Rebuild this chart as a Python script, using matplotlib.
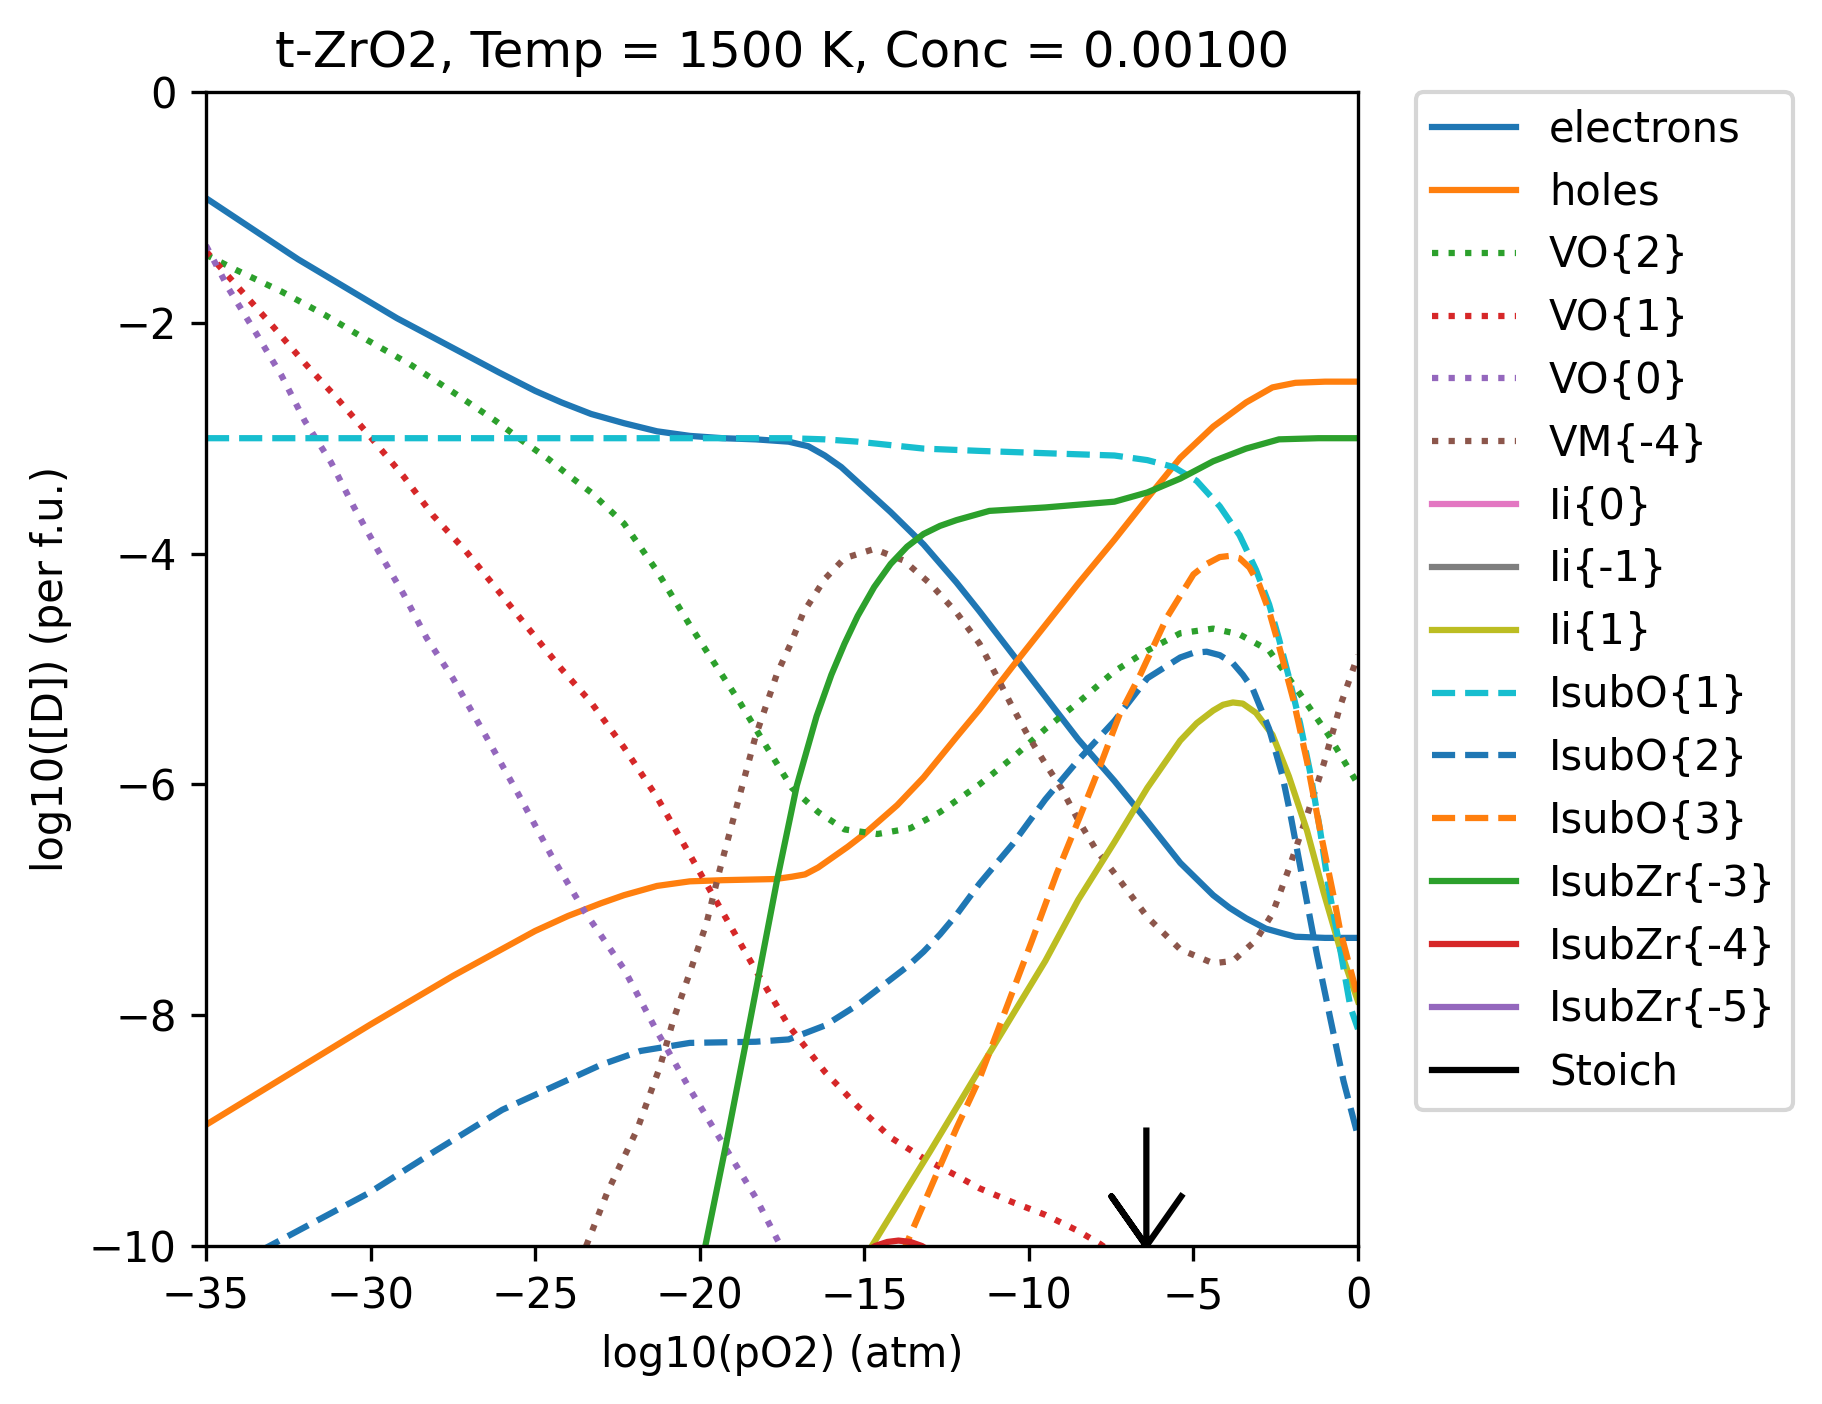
import numpy as np
import matplotlib
matplotlib.use('Agg')
import matplotlib.pyplot as plt

# %% values (log10 pO2, log10 [D])

electrons_x = [-35, -32.2, -29.2, -26.1, -25.0, -24.2, -23.3, -22.3, -21.3, -20.3, -19.3, -18.3,
               -17.3, -16.7, -16.2, -15.7, -15.2, -14.2, -13.2, -12.2, -11.5, -10.5, -9.5, -8.5,
               -7.4, -6.4, -5.4, -4.4, -3.9, -3.4, -2.8, -2.3, -1.9, -1.0, 0]
electrons_y = [-0.92, -1.45, -1.96, -2.43, -2.59, -2.69, -2.79, -2.87, -2.94, -2.98, -3.0, -3.01,
               -3.03, -3.07, -3.15, -3.25, -3.38, -3.64, -3.92, -4.25, -4.5, -4.87, -5.24, -5.61,
               -5.97, -6.32, -6.68, -6.96, -7.07, -7.16, -7.25, -7.29, -7.32, -7.33, -7.33]

holes_x = [-35, -30, -27.5, -25, -24, -23, -22.3, -21.3, -20.3, -19.3, -17.7, -17.2, -16.8, -16.4,
           -16.0, -15.5, -15.0, -14.0, -13.2, -12.2, -11.5, -10.5, -9.5, -8.5, -7.4, -6.4, -5.4,
           -4.4, -3.4, -2.6, -1.9, -1.0, 0]
holes_y = [-8.95, -8.08, -7.66, -7.27, -7.14, -7.03, -6.96, -6.88, -6.84, -6.83, -6.82, -6.80,
           -6.78, -6.72, -6.64, -6.54, -6.43, -6.18, -5.94, -5.59, -5.35, -4.98, -4.62, -4.26,
           -3.88, -3.52, -3.17, -2.90, -2.69, -2.56, -2.52, -2.51, -2.51]

vo2_x = [-35, -34.1, -32.7, -31.4, -30.1, -28.8, -27.5, -26.2, -25.4, -24.6, -23.9, -23.3, -22.3,
         -21.3, -20.3, -19.6, -18.8, -18.0, -17.2, -16.4, -15.6, -14.6, -13.6, -12.7, -11.9,
         -11.5, -10.5, -9.5, -8.5, -7.4, -6.4, -5.4, -4.4, -3.6, -2.7, -1.8, -0.9, 0]
vo2_y = [-1.41, -1.54, -1.73, -1.93, -2.15, -2.36, -2.60, -2.85, -3.02, -3.18, -3.34, -3.47, -3.74,
         -4.15, -4.62, -4.93, -5.28, -5.66, -6.03, -6.24, -6.39, -6.43, -6.38, -6.24, -6.08,
         -6.0, -5.77, -5.52, -5.29, -5.02, -4.84, -4.69, -4.65, -4.70, -4.84, -5.20, -5.57, -6.0]

vo1_x = [-35, -34.0, -33.0, -32.0, -31.0, -30.0, -29.0, -28.1, -27.1, -26.1, -25.2, -24.2, -23.3,
         -22.3, -21.3, -20.3, -19.3, -18.3, -17.3, -16.2, -15.2, -14.2, -13.2, -12.2, -11.5,
         -10.5, -9.5, -8.5, -7.85, -7.5]
vo1_y = [-1.38, -1.70, -2.02, -2.35, -2.66, -2.99, -3.33, -3.67, -3.98, -4.33, -4.65, -5.0, -5.29,
         -5.68, -6.11, -6.61, -7.11, -7.61, -8.09, -8.49, -8.79, -9.06, -9.24, -9.39, -9.50,
         -9.62, -9.73, -9.87, -9.98, -10.05]

vo0_x = [-35, -34.3, -33.5, -32.7, -32.0, -31.2, -30.5, -29.8, -29.0, -28.3, -27.5, -26.5, -25.5,
         -24.5, -23.5, -22.3, -21.3, -20.3, -19.3, -18.3, -17.65, -17.4]
vo0_y = [-1.33, -1.71, -2.08, -2.46, -2.85, -3.21, -3.60, -3.96, -4.35, -4.73, -5.08, -5.58, -6.09,
         -6.62, -7.10, -7.60, -8.14, -8.64, -9.11, -9.58, -9.94, -10.07]

vm4_x = [-23.45, -22.8, -21.9, -21.2, -20.8, -20.3, -19.8, -19.4, -18.8, -18.3, -17.65, -17.25,
         -16.85, -16.2, -15.6, -14.7, -13.8, -13.0, -12.2, -11.5, -11.0, -10.5, -10.0, -9.5,
         -9.0, -8.5, -7.95, -7.4, -6.4, -5.4, -4.4, -3.8, -3.1, -2.6, -2.1, -1.55, -1.05, -0.54, 0]
vm4_y = [-10.0, -9.53, -8.99, -8.44, -8.04, -7.63, -7.21, -6.75, -6.11, -5.58, -5.04, -4.79,
         -4.51, -4.22, -4.04, -3.96, -4.06, -4.26, -4.51, -4.78, -5.05, -5.33, -5.59, -5.82,
         -6.04, -6.31, -6.57, -6.77, -7.15, -7.43, -7.55, -7.53, -7.35, -7.12, -6.73, -6.27,
         -5.83, -5.32, -4.88]

# these three never come above -10 on this range
ii0_x, ii0_y = [], []
iim1_x, iim1_y = [], []
subzr5_x, subzr5_y = [], []

ii1_x = [-15.0, -14.77, -13.0, -11.5, -10.5, -9.5, -8.5, -7.4, -6.4, -5.4, -4.9, -4.4, -4.1, -3.8,
         -3.5, -3.1, -2.6, -2.1, -1.55, -1.05, -0.54, 0]
ii1_y = [-10.1, -10.0, -9.18, -8.47, -8.0, -7.53, -7.0, -6.5, -6.03, -5.62, -5.47, -5.36, -5.31,
         -5.29, -5.30, -5.38, -5.57, -5.93, -6.40, -6.93, -7.43, -7.88]

subo1_x = [-35, -17.3, -16.2, -15.2, -14.2, -13.2, -11.5, -9.5, -7.4, -6.4, -5.6, -4.9, -4.2, -3.6,
           -3.1, -2.7, -2.4, -2.1, -1.76, -1.45, -1.15, -0.89, -0.54, -0.23, 0]
subo1_y = [-3.0, -3.0, -3.01, -3.03, -3.06, -3.09, -3.11, -3.13, -3.15, -3.19, -3.25, -3.37, -3.59,
           -3.84, -4.14, -4.44, -4.74, -5.07, -5.47, -5.90, -6.40, -6.90, -7.43, -7.93, -8.12]

subo2_x = [-33.4, -30.05, -28, -26.0, -23.0, -21.8, -20.3, -18.3, -17.3, -16.2, -15.2, -14.2, -13.7,
           -13.2, -12.7, -12.2, -11.5, -10.5, -9.5, -8.5, -7.4, -6.4, -5.4, -5.0, -4.6, -4.2, -3.8,
           -3.5, -3.2, -2.7, -2.3, -2.06, -1.65, -1.25, -0.84, -0.44, 0]
subo2_y = [-10.05, -9.54, -9.17, -8.82, -8.43, -8.31, -8.24, -8.23, -8.21, -8.09, -7.91, -7.69,
           -7.58, -7.45, -7.30, -7.13, -6.86, -6.52, -6.13, -5.79, -5.45, -5.08, -4.90, -4.86,
           -4.85, -4.88, -4.95, -5.05, -5.17, -5.52, -5.92, -6.25, -6.87, -7.47, -8.03, -8.57, -9.05]

subo3_x = [-13.9, -12.2, -11.5, -10.5, -9.9, -9.15, -8.45, -7.85, -7.25, -6.6, -5.8, -5.0, -4.6,
           -4.2, -3.9, -3.6, -3.3, -3.0, -2.7, -2.4, -1.96, -1.55, -1.15, -0.74, -0.54, 0]
subo3_y = [-10.1, -8.98, -8.55, -7.8, -7.35, -6.77, -6.28, -5.85, -5.4, -5.04, -4.55, -4.18, -4.09,
           -4.03, -4.02, -4.04, -4.12, -4.27, -4.50, -4.80, -5.27, -5.80, -6.40, -6.97, -7.27, -7.85]

subzr3_x = [-19.83, -19.2, -18.6, -17.65, -17.05, -16.45, -16.0, -15.6, -15.2, -14.7, -14.2, -13.7,
            -13.2, -12.7, -12.2, -11.2, -9.5, -7.4, -6.4, -5.4, -4.4, -3.4, -2.4, -1.2, 0]
subzr3_y = [-10.0, -9.12, -8.24, -6.83, -6.01, -5.41, -5.05, -4.78, -4.54, -4.29, -4.09, -3.94,
            -3.83, -3.76, -3.71, -3.63, -3.60, -3.55, -3.47, -3.35, -3.20, -3.09, -3.01, -3.0, -3.0]

subzr4_x = [-15.2, -14.67, -14.3, -13.96, -13.6, -13.25, -12.7]
subzr4_y = [-10.1, -10.0, -9.965, -9.953, -9.965, -10.0, -10.1]

# stoichiometric point marker
stoich_x = -6.43
stoich_top = -9.0
stoich_tip = -10.0
head_w = 1.06
head_h = 0.43

# %%

fig = plt.figure(figsize=(1822 / 300., 1404 / 300.), dpi=300)
ax = fig.add_axes([206 / 1822., 158 / 1404., 1152 / 1822., 1154 / 1404.])

ax.plot(electrons_x, electrons_y, '-', color='C0', label='electrons')
ax.plot(holes_x, holes_y, '-', color='C1', label='holes')
ax.plot(vo2_x, vo2_y, ':', color='C2', label='VO{2}')
ax.plot(vo1_x, vo1_y, ':', color='C3', label='VO{1}')
ax.plot(vo0_x, vo0_y, ':', color='C4', label='VO{0}')
ax.plot(vm4_x, vm4_y, ':', color='C5', label='VM{-4}')
ax.plot(ii0_x, ii0_y, '-', color='C6', label='Ii{0}')
ax.plot(iim1_x, iim1_y, '-', color='C7', label='Ii{-1}')
ax.plot(ii1_x, ii1_y, '-', color='C8', label='Ii{1}')
ax.plot(subo1_x, subo1_y, '--', color='C9', label='IsubO{1}')
ax.plot(subo2_x, subo2_y, '--', color='C0', label='IsubO{2}')
ax.plot(subo3_x, subo3_y, '--', color='C1', label='IsubO{3}')
ax.plot(subzr3_x, subzr3_y, '-', color='C2', label='IsubZr{-3}')
ax.plot(subzr4_x, subzr4_y, '-', color='C3', label='IsubZr{-4}')
ax.plot(subzr5_x, subzr5_y, '-', color='C4', label='IsubZr{-5}')

arrow_x = [stoich_x, stoich_x, stoich_x - head_w, stoich_x, stoich_x + head_w]
arrow_y = [stoich_top, stoich_tip, stoich_tip + head_h, stoich_tip, stoich_tip + head_h]
ax.plot(arrow_x, arrow_y, '-', color='k', label='Stoich')

ax.set_xlim(-35, 0)
ax.set_ylim(-10, 0)
ax.set_xticks(np.arange(-35, 1, 5))
ax.set_yticks(np.arange(-10, 1, 2))

ax.set_xlabel('log10(pO2) (atm)')
ax.set_ylabel('log10([D]) (per f.u.)')
ax.set_title('t-ZrO2, Temp = 1500 K, Conc = 0.00100')

ax.legend(bbox_to_anchor=(1.05, 1), loc='upper left', borderaxespad=0.)

fig.savefig('out.png', dpi=300)
